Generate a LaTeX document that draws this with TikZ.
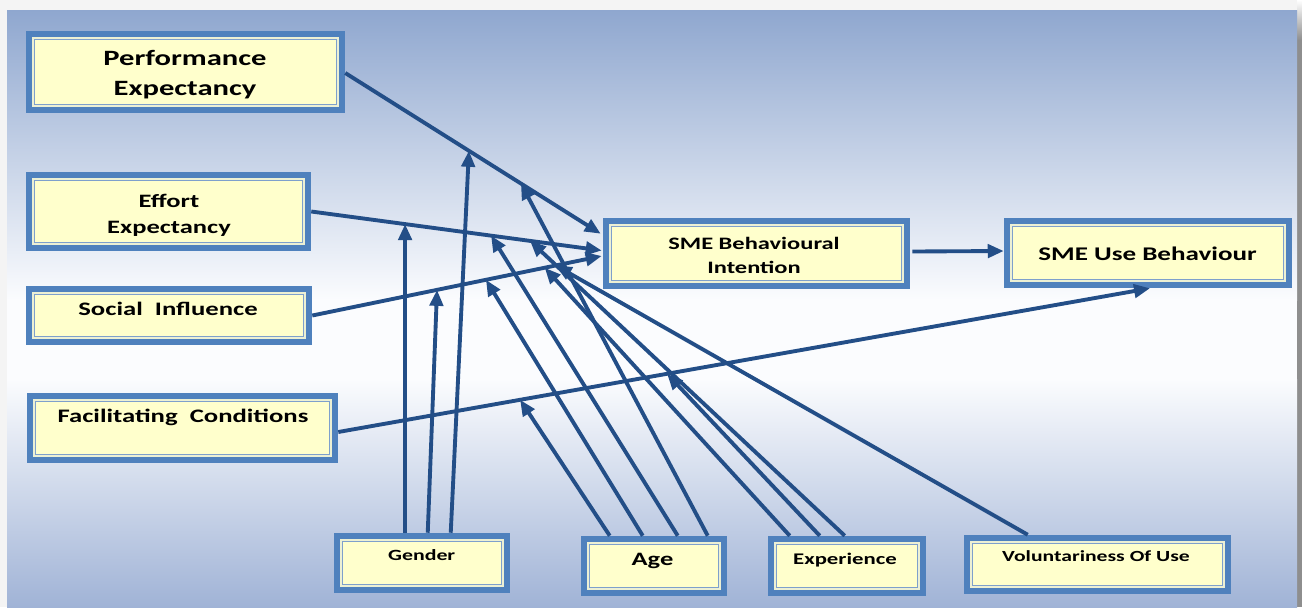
\documentclass[tikz,border=0pt]{standalone}
\usepackage{fontspec}
\setmainfont{Carlito}[FakeStretch=1.4]
\usetikzlibrary{arrows.meta,calc,fit}

\definecolor{pagegray}{RGB}{244,244,244}
\definecolor{shadowgray}{RGB}{142,142,142}
\definecolor{panelTop}{RGB}{143,167,207}
\definecolor{panelMid}{RGB}{251,252,254}
\definecolor{panelBot}{RGB}{160,179,214}
\definecolor{bandblue}{RGB}{79,129,189}
\definecolor{gapcream}{RGB}{236,240,212}
\definecolor{thinblue}{RGB}{126,160,204}
\definecolor{boxfill}{RGB}{255,255,204}
\definecolor{linkblue}{RGB}{35,78,135}

\tikzset{
  link/.style={draw=linkblue, line width=2.9pt, -{Triangle[length=12pt,width=10pt]}},
  lbl/.style={anchor=base, inner sep=0pt, align=center, text=black},
}

% framed construct box: name, left, top, right, bottom (pixel units)
\newcommand\constructbox[5]{%
  \fill[bandblue] (#2,#3) rectangle (#4,#5);
  \fill[gapcream] ($(#2,#3)+(6,6)$) rectangle ($(#4,#5)+(-6,-6)$);
  \filldraw[fill=boxfill, draw=thinblue, line width=0.9pt]
    ($(#2,#3)+(8.6,8.6)$) rectangle ($(#4,#5)+(-8.6,-8.6)$);
  \node[fit={(#2,#3) (#4,#5)}, inner sep=0pt] (#1) {};
}

\begin{document}
\begin{tikzpicture}[x=0.75pt, y=-0.75pt]
  \useasboundingbox (0,0) rectangle (1302,607);

  % page, drop shadow and gradient panel (shaded with an upward y axis)
  \fill[pagegray] (0,0) rectangle (1302,607);
  \begin{scope}[y=0.75pt]
    \shade[top color=white, bottom color=shadowgray] (1297,-40) rectangle (1302,0);
    \fill[shadowgray] (1297,-607) rectangle (1302,-40);
    \shade[top color=panelTop, bottom color=panelMid] (7,-300) rectangle (1297,-10);
    \fill[panelMid] (7,-380) rectangle (1297,-299);
    \shade[top color=panelMid, bottom color=panelBot] (7,-607) rectangle (1297,-379);
  \end{scope}

  % constructs
  \constructbox{pe}{26}{31}{345}{113}
  \constructbox{ee}{26}{172}{311}{251}
  \constructbox{si}{26}{286}{312}{345}
  \constructbox{fc}{27}{393}{338}{463}
  \constructbox{bi}{603}{218}{910}{289}
  \constructbox{ub}{1004}{218}{1292}{288}
  \constructbox{gen}{334}{533}{510}{593}
  \constructbox{age}{581}{536}{727}{596}
  \constructbox{exp}{768}{536}{926}{596}
  \constructbox{vol}{964}{535}{1231}{594}

  % labels (base = baseline of the last line)
  \node[lbl, font=\bfseries\fontsize{16.4}{22.5}\selectfont] (pe-t) at (185,95) {Performance\\Expectancy};
  \node[lbl, font=\bfseries\fontsize{14.2}{19.5}\selectfont] (ee-t) at (169,233) {Effort\\Expectancy};
  \node[lbl, font=\bfseries\fontsize{14.3}{18}\selectfont] (si-t) at (168,315) {Social\ \ Influence};
  \node[lbl, font=\bfseries\fontsize{14.3}{18}\selectfont] (fc-t) at (183,422.5) {Facilitating\ \ Conditions};
  \node[lbl, font=\bfseries\fontsize{13.1}{18}\selectfont] (bi-t) at (754,273.3) {SME Behavioural\\Intention};
  \node[lbl, font=\bfseries\fontsize{14.5}{18}\selectfont] (ub-t) at (1147.5,260.7) {SME Use Behaviour};
  \node[lbl, font=\bfseries\fontsize{11.7}{14}\selectfont] (gen-t) at (421.7,560) {Gender};
  \node[lbl, font=\bfseries\fontsize{14.2}{17}\selectfont] (age-t) at (652.5,565.3) {Age};
  \node[lbl, font=\bfseries\fontsize{12.2}{15}\selectfont] (exp-t) at (845,564) {Experience};
  \node[lbl, font=\bfseries\fontsize{11.6}{14}\selectfont] (vol-t) at (1096,561.7) {Voluntariness Of Use};

  % end points of the main paths
  \coordinate (peS) at ($(pe.east)+(0,1)$);
  \coordinate (peE) at ($(bi.north west)+(-2,16)$);
  \coordinate (eeS) at (ee.east);
  \coordinate (eeE) at ($(bi.west)+(-1,-3)$);
  \coordinate (siS) at (si.east);
  \coordinate (siE) at ($(bi.west)+(-1,2.5)$);
  \coordinate (fcS) at ($(fc.east)+(0,4)$);
  \coordinate (fcE) at ($(ub.south)+(2,0)$);

  % main paths
  \draw[link] (peS) -- (peE);
  \draw[link] (eeS) -- (eeE);
  \draw[link] (siS) -- (siE);
  \draw[link] (fcS) -- (fcE);
  \draw[link] ($(bi.east)+(2,-2)$) -- ($(ub.west)+(0,-2)$);

  % where the moderators meet the main paths
  \coordinate (tG3) at ($(peS)!0.484!(peE)$);
  \coordinate (tA4) at ($(peS)!0.6875!(peE)$);
  \coordinate (tG1) at ($(eeS)!0.323!(eeE)$);
  \coordinate (tA3) at ($(eeS)!0.619!(eeE)$);
  \coordinate (tE3) at ($(eeS)!0.753!(eeE)$);
  \coordinate (tG2) at ($(siS)!0.431!(siE)$);
  \coordinate (tA2) at ($(siS)!0.600!(siE)$);
  \coordinate (tE1) at ($(siS)!0.803!(siE)$);
  \coordinate (tV)  at ($(siS)!0.841!(siE)$);
  \coordinate (tA1) at ($(fcS)!0.224!(fcE)$);
  \coordinate (tE2) at ($(fcS)!0.405!(fcE)$);

  % gender
  \draw[link] (gen.north -| tG1) -- (tG1);
  \draw[link] ($(gen.north west)+(94,0)$) -- (tG2);
  \draw[link] ($(gen.north west)+(117,0)$) -- (tG3);
  % age
  \draw[link] ($(age.north west)+(29,0)$) -- (tA1);
  \draw[link] ($(age.north west)+(62,0)$) -- (tA2);
  \draw[link] ($(age.north west)+(97,0)$) -- (tA3);
  \draw[link] ($(age.north west)+(127,0)$) -- (tA4);
  % experience
  \draw[link] ($(exp.north west)+(22,0)$) -- (tE1);
  \draw[link] ($(exp.north west)+(52,0)$) -- (tE2);
  \draw[link] ($(exp.north west)+(77,0)$) -- (tE3);
  % voluntariness
  \draw[link] ($(vol.north west)+(64,0)$) -- (tV);
\end{tikzpicture}
\end{document}
